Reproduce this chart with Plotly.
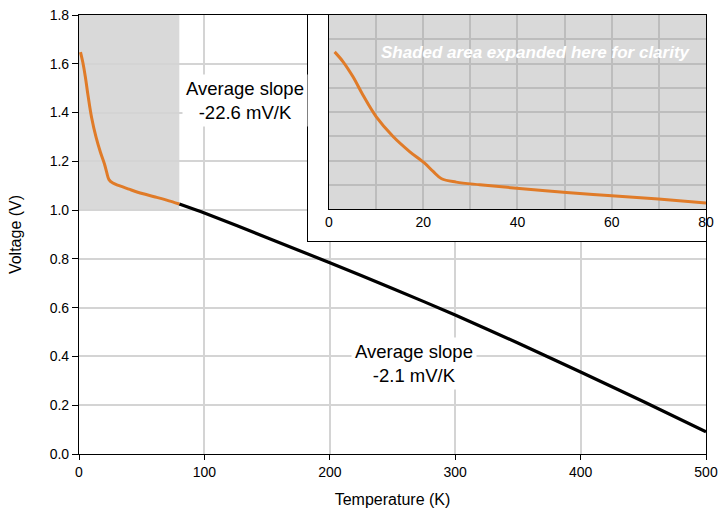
import plotly.graph_objects as go

# Low-temperature (shaded) region, 0-80 K
low_T = [1.2, 3.0, 5.1, 7.2, 10.0, 13.6, 17.1, 20.3, 22.1, 23.9, 27.0, 32.0, 39.8, 50.4, 60.0, 69.9, 80.0]
low_V = [1.648, 1.607, 1.545, 1.470, 1.381, 1.299, 1.237, 1.189, 1.155, 1.125, 1.111, 1.100, 1.086, 1.068, 1.055, 1.041, 1.025]

# High-temperature region, 80-500 K
high_T = [80, 100, 150, 200, 250, 300, 350, 400, 450, 500]
high_V = [1.025, 0.988, 0.887, 0.784, 0.679, 0.570, 0.455, 0.336, 0.215, 0.091]

main_xticks = [0, 100, 200, 300, 400, 500]
main_yticks = [0.0, 0.2, 0.4, 0.6, 0.8, 1.0, 1.2, 1.4, 1.6, 1.8]
inset_xticks = [0, 20, 40, 60, 80]

annot_low = "Average slope<br>-22.6 mV/K"
annot_high = "Average slope<br>-2.1 mV/K"
inset_note = "Shaded area expanded here for clarity"

ORANGE = "#e07b28"
FONT = "Liberation Sans, Arial, sans-serif"

fig = go.Figure()

# main plot traces
fig.add_trace(go.Scatter(x=high_T, y=high_V, mode="lines",
                         line=dict(color="black", width=3.2, shape="spline", smoothing=0.6),
                         xaxis="x", yaxis="y", hoverinfo="skip", showlegend=False))
fig.add_trace(go.Scatter(x=low_T, y=low_V, mode="lines", line=dict(color=ORANGE, width=3, shape="spline"),
                         xaxis="x", yaxis="y", hoverinfo="skip", showlegend=False))
# white box subplot (x2/y2)
fig.add_trace(go.Scatter(x=[None], y=[None], mode="lines", xaxis="x2", yaxis="y2",
                         hoverinfo="skip", showlegend=False))
# inset (x3/y3)
fig.add_trace(go.Scatter(x=low_T, y=low_V, mode="lines", line=dict(color=ORANGE, width=3, shape="spline"),
                         xaxis="x3", yaxis="y3", hoverinfo="skip", showlegend=False))

grid_main = "#d4d4d4"
grid_inset = "#bdbdbd"

fig.update_layout(
    width=718, height=529,
    margin=dict(l=79, r=12, t=15, b=75),
    paper_bgcolor="white", plot_bgcolor="white",
    font=dict(family=FONT, size=14, color="black"),
    xaxis=dict(domain=[0, 1], range=[0, 500], tickvals=main_xticks, ticktext=[str(v) for v in main_xticks],
               showgrid=True, gridcolor=grid_main, gridwidth=1.5, zeroline=False, automargin=False,
               showline=True, linecolor="black", linewidth=1.2, mirror=True,
               ticks="outside", ticklen=5, tickcolor="black",
               title=dict(text="Temperature (K)", font=dict(size=16), standoff=14)),
    yaxis=dict(domain=[0, 1], range=[0, 1.8], tickvals=main_yticks, tickformat=".1f",
               showgrid=True, gridcolor=grid_main, gridwidth=1.5, zeroline=False, automargin=False,
               showline=True, linecolor="black", linewidth=1.2, mirror=True,
               ticks="outside", ticklen=6, tickcolor="black",
               title=dict(text="Voltage (V)", font=dict(size=16), standoff=24)),
    xaxis2=dict(domain=[0.3652, 1.0], range=[0, 1], anchor="y2", showgrid=False, zeroline=False,
                showticklabels=False, ticks="", showline=True, linecolor="black", linewidth=1.2, mirror=True,
                fixedrange=True, automargin=False),
    yaxis2=dict(domain=[0.4852, 1.0], range=[0, 1], anchor="x2", showgrid=False, zeroline=False,
                showticklabels=False, ticks="", showline=True, linecolor="black", linewidth=1.2, mirror=True,
                fixedrange=True, automargin=False),
    xaxis3=dict(domain=[0.3987, 1.0], range=[0, 80], anchor="y3", tickvals=inset_xticks,
                showgrid=True, gridcolor=grid_inset, gridwidth=1.5, zeroline=False, automargin=False,
                minor=dict(dtick=10, showgrid=True, gridcolor=grid_inset, gridwidth=1.5),
                showline=True, linecolor="black", linewidth=1.2, mirror=True, ticks="",
                tickfont=dict(size=14)),
    yaxis3=dict(domain=[0.558, 1.0], range=[1.0, 1.8], anchor="x3", dtick=0.1,
                showgrid=True, gridcolor=grid_inset, gridwidth=1.5, zeroline=False, automargin=False,
                showticklabels=False, ticks="",
                showline=True, linecolor="black", linewidth=1.2, mirror=True),
    shapes=[
        dict(type="rect", xref="x", yref="y", x0=0, x1=80, y0=1.0, y1=1.8,
             fillcolor="#d9d9d9", line=dict(width=0), layer="below"),
        dict(type="rect", xref="x2", yref="y2", x0=0, x1=1, y0=0, y1=1,
             fillcolor="white", line=dict(width=0), layer="below"),
        dict(type="rect", xref="x3", yref="y3", x0=0, x1=80, y0=1.0, y1=1.8,
             fillcolor="#d9d9d9", line=dict(width=0), layer="below"),
    ],
    annotations=[
        dict(text=annot_low, x=132, y=1.451, xref="x", yref="y", showarrow=False,
             font=dict(size=18.5, family=FONT), bgcolor="white", borderpad=3, align="center"),
        dict(text=annot_high, x=267, y=0.373, xref="x", yref="y", showarrow=False,
             font=dict(size=18.5, family=FONT), bgcolor="white", borderpad=3, align="center"),
        dict(text="<b><i>" + inset_note + "</i></b>", x=43.9, y=1.647, xref="x3", yref="y3",
             showarrow=False, font=dict(size=17, family=FONT, color="white")),
    ],
)

fig.write_html("out.html", post_script="document.body.style.margin='0';",
               config={"displayModeBar": False})
